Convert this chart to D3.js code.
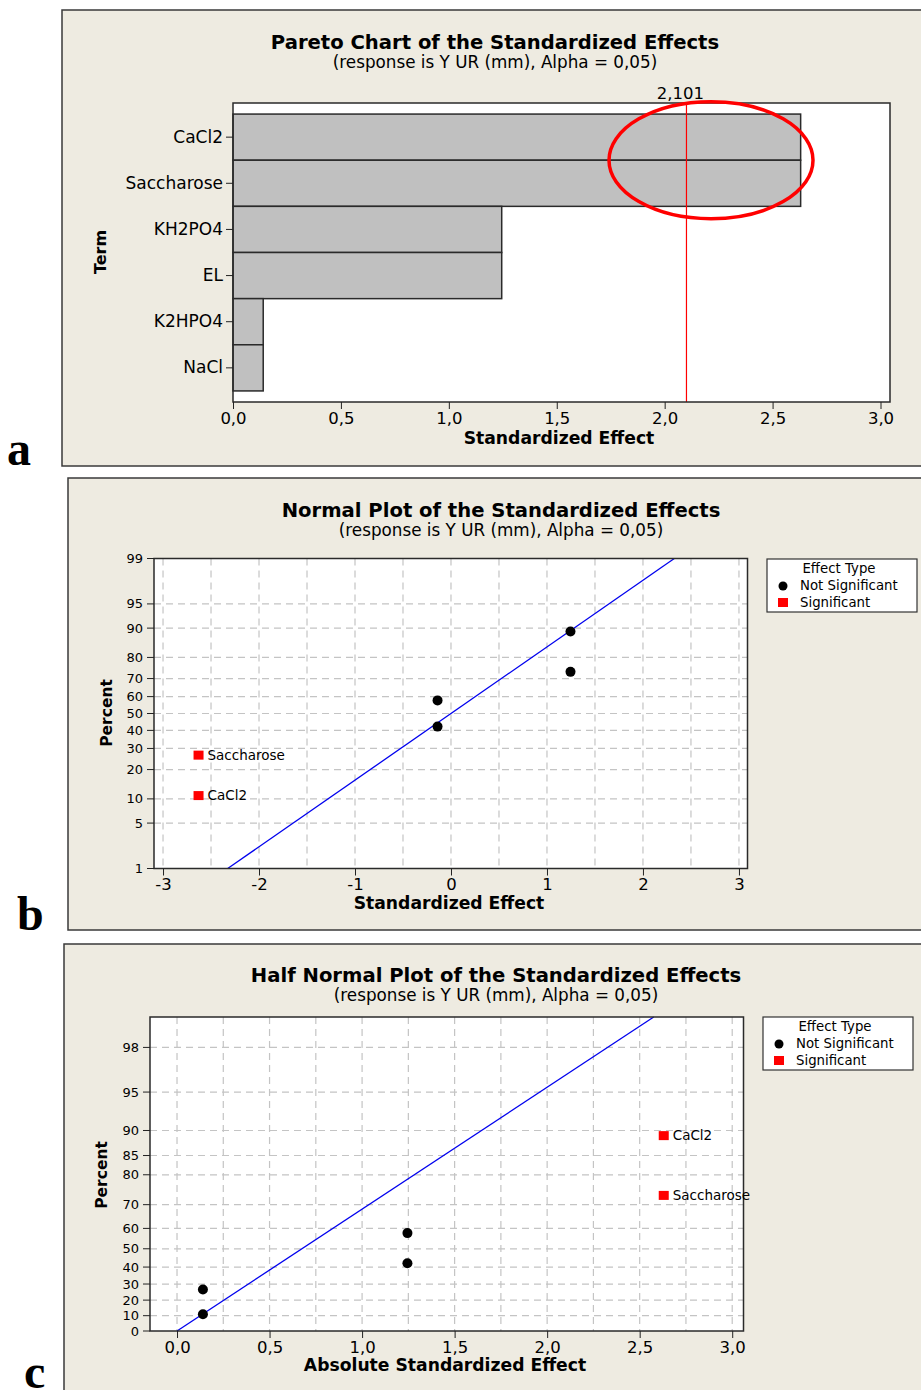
<!DOCTYPE html>
<html><head><meta charset="utf-8">
<script src="https://cdn.jsdelivr.net/npm/d3@7"></script>
<style>
html,body{margin:0;padding:0;background:#fff;}
svg text{font-family:"DejaVu Sans",Verdana,sans-serif;fill:#000;}
</style></head>
<body>
<svg id="chart" width="921" height="1390"></svg>
<script>
// ---------------- data ----------------
const terms = ["CaCl2", "Saccharose", "KH2PO4", "EL", "K2HPO4", "NaCl"];
const absEffects = [2.63, 2.63, 1.245, 1.245, 0.14, 0.14];
const signedEffects = [-2.63, -2.63, 1.245, 1.245, -0.14, -0.14];
const significant = [true, true, false, false, false, false];
const normalPercent = [10.9, 26.6, 73.4, 89.1, 42.2, 57.8];
const halfNormalPercent = [89.1, 73.4, 42.2, 57.8, 10.9, 26.6];
const criticalValue = 2.101;
const lineSigma = 1.0;
const paretoTicks = [0, 0.5, 1.0, 1.5, 2.0, 2.5, 3.0];
const normalXTicks = [-3, -2, -1, 0, 1, 2, 3];
const normalYTicks = [1, 5, 10, 20, 30, 40, 50, 60, 70, 80, 90, 95, 99];
const halfXTicks = [0, 0.5, 1.0, 1.5, 2.0, 2.5, 3.0];
const halfYTicks = [0, 10, 20, 30, 40, 50, 60, 70, 80, 85, 90, 95, 98];
const legendLabels = ["Not Significant", "Significant"];
const titles = ["Pareto Chart of the Standardized Effects", "Normal Plot of the Standardized Effects", "Half Normal Plot of the Standardized Effects"];
const subtitle = "(response is Y UR (mm), Alpha = 0,05)";

// ---------------- helpers ----------------
function invNorm(p){
  const a=[-3.969683028665376e+01,2.209460984245205e+02,-2.759285104469687e+02,1.383577518672690e+02,-3.066479806614716e+01,2.506628277459239e+00];
  const b=[-5.447609879822406e+01,1.615858368580409e+02,-1.556989798598866e+02,6.680131188771972e+01,-1.328068155288572e+01];
  const c=[-7.784894002430293e-03,-3.223964580411365e-01,-2.400758277161838e+00,-2.549732539343734e+00,4.374664141464968e+00,2.938163982698783e+00];
  const d=[7.784695709041462e-03,3.224671290700398e-01,2.445134137142996e+00,3.754408661907416e+00];
  const pl=0.02425, ph=1-pl; let q,r;
  if(p<pl){q=Math.sqrt(-2*Math.log(p));return (((((c[0]*q+c[1])*q+c[2])*q+c[3])*q+c[4])*q+c[5])/((((d[0]*q+d[1])*q+d[2])*q+d[3])*q+1);}
  if(p<=ph){q=p-0.5;r=q*q;return (((((a[0]*r+a[1])*r+a[2])*r+a[3])*r+a[4])*r+a[5])*q/(((((b[0]*r+b[1])*r+b[2])*r+b[3])*r+b[4])*r+1);}
  q=Math.sqrt(-2*Math.log(1-p));return -(((((c[0]*q+c[1])*q+c[2])*q+c[3])*q+c[4])*q+c[5])/((((d[0]*q+d[1])*q+d[2])*q+d[3])*q+1);
}
const zNormal = pct => invNorm(pct/100);
const zHalf = pct => pct<=0 ? 0 : invNorm(0.5 + pct/200);

const svg = d3.select("#chart");
const BG = "#EEEBE1";
const fmt = d => d3.format(".1f")(d).replace(".", ",");

function panelBox(x, y, w, h){
  svg.append("rect").attr("x",x).attr("y",y).attr("width",w).attr("height",h)
    .attr("fill",BG).attr("stroke","#3a3a3a").attr("stroke-width",1.5);
}
function titleBlock(cx, y, t){
  svg.append("text").attr("x",cx).attr("y",y).attr("text-anchor","middle")
    .attr("font-weight","bold").attr("font-size",19.6).text(t);
  svg.append("text").attr("x",cx).attr("y",y+19).attr("text-anchor","middle")
    .attr("font-size",16.8).text(subtitle);
}
function panelLetter(x, y, t){
  svg.append("text").attr("x",x).attr("y",y).text(t)
    .style("font-family","'Liberation Serif','Times New Roman',serif")
    .attr("font-weight","bold").attr("font-size",48);
}
function legend(x, y){
  const g = svg.append("g");
  g.append("rect").attr("x",x).attr("y",y).attr("width",150).attr("height",53)
    .attr("fill","#fff").attr("stroke","#333").attr("stroke-width",1.2);
  g.append("text").attr("x",x+72).attr("y",y+14).attr("text-anchor","middle").attr("font-size",13.3).text("Effect Type");
  g.append("circle").attr("cx",x+16).attr("cy",y+27).attr("r",4.5).attr("fill","#000");
  g.append("text").attr("x",x+33).attr("y",y+31).attr("font-size",13.3).text(legendLabels[0]);
  g.append("rect").attr("x",x+11).attr("y",y+39).attr("width",10).attr("height",9).attr("fill","#f00");
  g.append("text").attr("x",x+33).attr("y",y+48).attr("font-size",13.3).text(legendLabels[1]);
}

// ================= Panel a : Pareto =================
(function(){
  panelBox(62, 10, 880, 456);
  titleBlock(495, 49, titles[0]);
  const L=233, R=890, T=103, B=402;
  const x = d3.scaleLinear().domain([0, 3.044]).range([L, R]);
  const y = d3.scaleBand().domain(terms).range([T, B]).paddingInner(0).paddingOuter(0.24);
  svg.append("rect").attr("x",L).attr("y",T).attr("width",R-L).attr("height",B-T).attr("fill","#fff");
  svg.append("g").selectAll("rect").data(terms).join("rect")
    .attr("x", x(0)).attr("y", d=>y(d))
    .attr("width", (d,i)=>x(absEffects[i])-x(0)).attr("height", y.bandwidth())
    .attr("fill","#C0C0C0").attr("stroke","#2a2a2a").attr("stroke-width",1.5);
  svg.append("line").attr("x1",x(criticalValue)).attr("x2",x(criticalValue)).attr("y1",T).attr("y2",B)
    .attr("stroke","#f00").attr("stroke-width",1.2);
  svg.append("text").attr("x",x(criticalValue)-6).attr("y",T-4).attr("text-anchor","middle").attr("font-size",16.5).text("2,101");
  svg.append("rect").attr("x",L).attr("y",T).attr("width",R-L).attr("height",B-T).attr("fill","none")
    .attr("stroke","#2a2a2a").attr("stroke-width",1.5);
  const xa = svg.append("g").attr("transform",`translate(0,${B})`)
    .call(d3.axisBottom(x).tickValues(paretoTicks).tickFormat(fmt).tickSize(7).tickSizeOuter(0));
  xa.select(".domain").remove();
  xa.selectAll("line").attr("stroke","#222");
  xa.selectAll("text").attr("font-size",16.5).attr("dy","0.72em").attr("y",10).style("font-family","DejaVu Sans");
  const ya = svg.append("g").attr("transform",`translate(${L},0)`)
    .call(d3.axisLeft(y).tickSize(7).tickSizeOuter(0));
  ya.select(".domain").remove();
  ya.selectAll("line").attr("stroke","#222");
  ya.selectAll("text").attr("font-size",17).attr("x",-10).style("font-family","DejaVu Sans");
  svg.append("text").attr("x",559).attr("y",444).attr("text-anchor","middle").attr("font-weight","bold").attr("font-size",17.2).text("Standardized Effect");
  svg.append("text").attr("transform","translate(106,252) rotate(-90)").attr("text-anchor","middle").attr("font-weight","bold").attr("font-size",16).text("Term");
  // highlight ellipse around significant bars
  svg.append("ellipse").attr("cx",711).attr("cy",y(terms[1])).attr("rx",102).attr("ry",58.5)
    .attr("fill","none").attr("stroke","#f00").attr("stroke-width",3.5);
  panelLetter(7, 465, "a");
})();

// ================= Panel b : Normal plot =================
(function(){
  panelBox(68, 478, 880, 452);
  titleBlock(501, 517, titles[1]);
  const L=154, R=747.5, T=558.5, B=868.5;
  const x = d3.scaleLinear().domain([-3.094, 3.089]).range([L, R]);
  const yz = d3.scaleLinear().domain([zNormal(1), zNormal(99)]).range([B, T]);
  const y = p => yz(zNormal(p));
  svg.append("rect").attr("x",L).attr("y",T).attr("width",R-L).attr("height",B-T).attr("fill","#fff");
  const grid = svg.append("g").attr("stroke","#C4C4C4").attr("stroke-width",1.2).attr("stroke-dasharray","7,5");
  d3.range(-3, 3.01, 0.5).forEach(v => grid.append("line").attr("x1",x(v)).attr("x2",x(v)).attr("y1",T).attr("y2",B));
  normalYTicks.filter(p=>p>1&&p<99).forEach(p => grid.append("line").attr("x1",L).attr("x2",R).attr("y1",y(p)).attr("y2",y(p)));
  // fitted line
  const e0 = zNormal(1)*lineSigma, e1 = zNormal(99)*lineSigma;
  svg.append("line").attr("x1",x(e0)).attr("y1",yz(e0/lineSigma)).attr("x2",x(e1)).attr("y2",yz(e1/lineSigma))
    .attr("stroke","#0000EE").attr("stroke-width",1.3);
  svg.append("rect").attr("x",L).attr("y",T).attr("width",R-L).attr("height",B-T).attr("fill","none")
    .attr("stroke","#2a2a2a").attr("stroke-width",1.5);
  terms.forEach((t,i) => {
    const px = x(signedEffects[i]), py = y(normalPercent[i]);
    if(significant[i]){
      svg.append("rect").attr("x",px-5).attr("y",py-4.5).attr("width",10).attr("height",9).attr("fill","#f00");
      svg.append("text").attr("x",px+9).attr("y",py+4.5).attr("font-size",13.5).text(t);
    } else {
      svg.append("circle").attr("cx",px).attr("cy",py).attr("r",5).attr("fill","#000");
    }
  });
  const ya = svg.append("g");
  normalYTicks.forEach(p => {
    ya.append("line").attr("x1",L-7).attr("x2",L).attr("y1",y(p)).attr("y2",y(p)).attr("stroke","#222");
    ya.append("text").attr("x",L-11).attr("y",y(p)+4.5).attr("text-anchor","end").attr("font-size",13).text(p);
  });
  const xa = svg.append("g").attr("transform",`translate(0,${B})`)
    .call(d3.axisBottom(x).tickValues(normalXTicks).tickFormat(d => String(d)).tickSize(7).tickSizeOuter(0));
  xa.select(".domain").remove();
  xa.selectAll("line").attr("stroke","#222");
  xa.selectAll("text").attr("font-size",16.5).attr("y",10).attr("dy","0.72em").style("font-family","DejaVu Sans");
  svg.append("text").attr("x",449).attr("y",909).attr("text-anchor","middle").attr("font-weight","bold").attr("font-size",17.2).text("Standardized Effect");
  svg.append("text").attr("transform","translate(112,713) rotate(-90)").attr("text-anchor","middle").attr("font-weight","bold").attr("font-size",15.5).text("Percent");
  legend(767, 559);
  panelLetter(17, 930, "b");
})();

// ================= Panel c : Half normal plot =================
(function(){
  panelBox(64, 944, 880, 470);
  titleBlock(496, 982, titles[2]);
  const L=150, R=743.5, T=1017, B=1331;
  const x = d3.scaleLinear().domain([-0.146, 3.061]).range([L, R]);
  const yz = d3.scaleLinear().domain([0, zHalf(99)]).range([B, T]);
  const y = p => yz(zHalf(p));
  svg.append("rect").attr("x",L).attr("y",T).attr("width",R-L).attr("height",B-T).attr("fill","#fff");
  const grid = svg.append("g").attr("stroke","#C4C4C4").attr("stroke-width",1.2).attr("stroke-dasharray","7,5");
  d3.range(0, 3.01, 0.25).forEach(v => grid.append("line").attr("x1",x(v)).attr("x2",x(v)).attr("y1",T).attr("y2",B));
  halfYTicks.filter(p=>p>0).forEach(p => grid.append("line").attr("x1",L).attr("x2",R).attr("y1",y(p)).attr("y2",y(p)));
  const zTop = zHalf(99);
  svg.append("line").attr("x1",x(0)).attr("y1",yz(0)).attr("x2",x(zTop*lineSigma)).attr("y2",yz(zTop))
    .attr("stroke","#0000EE").attr("stroke-width",1.3);
  svg.append("rect").attr("x",L).attr("y",T).attr("width",R-L).attr("height",B-T).attr("fill","none")
    .attr("stroke","#2a2a2a").attr("stroke-width",1.5);
  terms.forEach((t,i) => {
    const px = x(absEffects[i]), py = y(halfNormalPercent[i]);
    if(significant[i]){
      svg.append("rect").attr("x",px-5).attr("y",py-4.5).attr("width",10).attr("height",9).attr("fill","#f00");
      svg.append("text").attr("x",px+9).attr("y",py+4.5).attr("font-size",13.5).text(t);
    } else {
      svg.append("circle").attr("cx",px).attr("cy",py).attr("r",5).attr("fill","#000");
    }
  });
  const ya = svg.append("g");
  halfYTicks.forEach(p => {
    ya.append("line").attr("x1",L-7).attr("x2",L).attr("y1",y(p)).attr("y2",y(p)).attr("stroke","#222");
    ya.append("text").attr("x",L-11).attr("y",y(p)+4.5).attr("text-anchor","end").attr("font-size",13).text(p);
  });
  const xa = svg.append("g").attr("transform",`translate(0,${B})`)
    .call(d3.axisBottom(x).tickValues(halfXTicks).tickFormat(fmt).tickSize(7).tickSizeOuter(0));
  xa.select(".domain").remove();
  xa.selectAll("line").attr("stroke","#222");
  xa.selectAll("text").attr("font-size",16.5).attr("y",10).attr("dy","0.72em").style("font-family","DejaVu Sans");
  svg.append("text").attr("x",445).attr("y",1371).attr("text-anchor","middle").attr("font-weight","bold").attr("font-size",17.2).text("Absolute Standardized Effect");
  svg.append("text").attr("transform","translate(107,1175) rotate(-90)").attr("text-anchor","middle").attr("font-weight","bold").attr("font-size",15.5).text("Percent");
  legend(763, 1017);
  panelLetter(24, 1388, "c");
})();
</script>
</body></html>
